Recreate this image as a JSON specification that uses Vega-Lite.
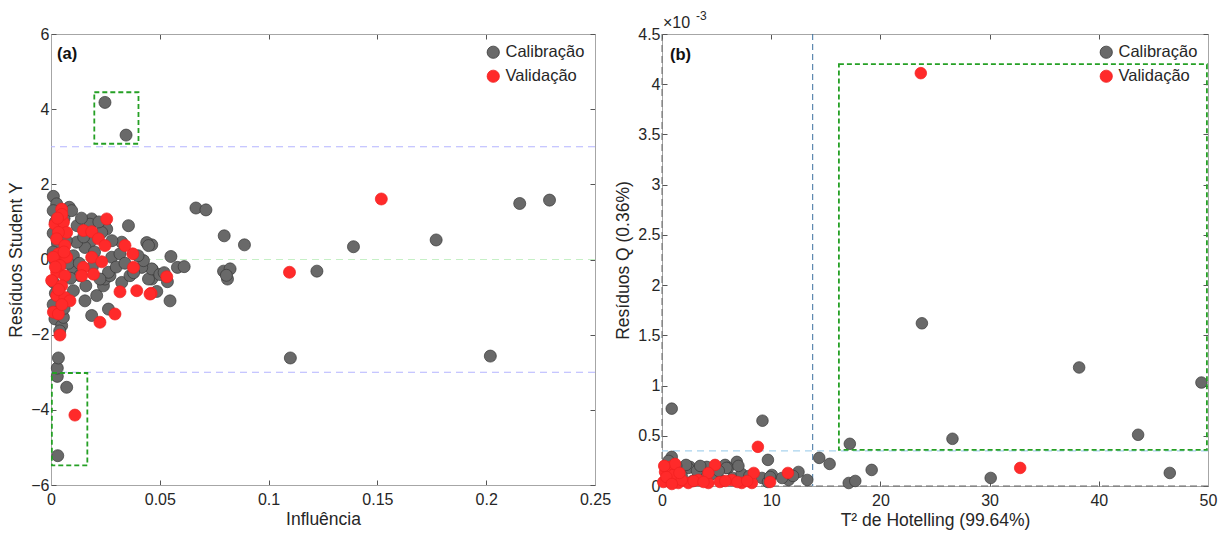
{
"$schema":"https://vega.github.io/schema/vega-lite/v6.json",
"padding":{"left":7,"top":9,"right":5,"bottom":2},
"spacing":67,
"bounds":"flush",
"config":{
 "font":"Liberation Sans",
 "view":{"stroke":"#a6a6a6","strokeWidth":1},
 "axis":{"grid":false,"labelFont":"Liberation Sans","labelFontSize":16,"labelColor":"#262626","labelFlush":false,"labelOverlap":false,"titleFont":"Liberation Sans","titleFontSize":17.5,"titleFontWeight":"normal","titleColor":"#262626","domainColor":"#a6a6a6","tickColor":"#555555","tickSize":-5},
 "axisX":{"labelPadding":11,"titlePadding":3},
 "axisY":{"labelPadding":7,"titlePadding":5},
 "legend":{"orient":"top-right","offset":8,"labelFont":"Liberation Sans","labelFontSize":16.5,"labelColor":"#262626","symbolType":"circle","symbolSize":150,"symbolStrokeWidth":0.8,"rowPadding":7,"padding":2,"title":null}
},
"datasets":{
 "pontosA":[
  {"Influencia":0.0248,"Residuo":4.18,"Conjunto":"Calibração"},
  {"Influencia":0.0345,"Residuo":3.31,"Conjunto":"Calibração"},
  {"Influencia":0.0031,"Residuo":-5.22,"Conjunto":"Calibração"},
  {"Influencia":0.0072,"Residuo":-3.40,"Conjunto":"Calibração"},
  {"Influencia":0.0029,"Residuo":-3.11,"Conjunto":"Calibração"},
  {"Influencia":0.0029,"Residuo":-2.89,"Conjunto":"Calibração"},
  {"Influencia":0.0034,"Residuo":-2.62,"Conjunto":"Calibração"},
  {"Influencia":0.110,"Residuo":-2.62,"Conjunto":"Calibração"},
  {"Influencia":0.1222,"Residuo":-0.31,"Conjunto":"Calibração"},
  {"Influencia":0.2019,"Residuo":-2.57,"Conjunto":"Calibração"},
  {"Influencia":0.2154,"Residuo":1.49,"Conjunto":"Calibração"},
  {"Influencia":0.2291,"Residuo":1.58,"Conjunto":"Calibração"},
  {"Influencia":0.139,"Residuo":0.34,"Conjunto":"Calibração"},
  {"Influencia":0.177,"Residuo":0.52,"Conjunto":"Calibração"},
  {"Influencia":0.0666,"Residuo":1.37,"Conjunto":"Calibração"},
  {"Influencia":0.0712,"Residuo":1.32,"Conjunto":"Calibração"},
  {"Influencia":0.0796,"Residuo":0.63,"Conjunto":"Calibração"},
  {"Influencia":0.0889,"Residuo":0.39,"Conjunto":"Calibração"},
  {"Influencia":0.0463,"Residuo":0.39,"Conjunto":"Calibração"},
  {"Influencia":0.044,"Residuo":0.45,"Conjunto":"Calibração"},
  {"Influencia":0.0551,"Residuo":0.08,"Conjunto":"Calibração"},
  {"Influencia":0.0581,"Residuo":-0.21,"Conjunto":"Calibração"},
  {"Influencia":0.0612,"Residuo":-0.19,"Conjunto":"Calibração"},
  {"Influencia":0.0793,"Residuo":-0.31,"Conjunto":"Calibração"},
  {"Influencia":0.0823,"Residuo":-0.25,"Conjunto":"Calibração"},
  {"Influencia":0.0811,"Residuo":-0.52,"Conjunto":"Calibração"},
  {"Influencia":0.0806,"Residuo":-0.42,"Conjunto":"Calibração"},
  {"Influencia":0.0466,"Residuo":-0.27,"Conjunto":"Calibração"},
  {"Influencia":0.0463,"Residuo":-0.52,"Conjunto":"Calibração"},
  {"Influencia":0.0535,"Residuo":-0.59,"Conjunto":"Calibração"},
  {"Influencia":0.0486,"Residuo":-0.85,"Conjunto":"Calibração"},
  {"Influencia":0.0547,"Residuo":-1.10,"Conjunto":"Calibração"},
  {"Influencia":0.0011,"Residuo":1.68,"Conjunto":"Calibração"},
  {"Influencia":0.0026,"Residuo":1.48,"Conjunto":"Calibração"},
  {"Influencia":0.0084,"Residuo":1.39,"Conjunto":"Calibração"},
  {"Influencia":0.0018,"Residuo":-1.58,"Conjunto":"Calibração"},
  {"Influencia":0.0049,"Residuo":-1.76,"Conjunto":"Calibração"},
  {"Influencia":0.0057,"Residuo":-1.54,"Conjunto":"Calibração"},
  {"Influencia":0.0103,"Residuo":-0.83,"Conjunto":"Calibração"},
  {"Influencia":0.0156,"Residuo":-1.10,"Conjunto":"Calibração"},
  {"Influencia":0.021,"Residuo":-0.96,"Conjunto":"Calibração"},
  {"Influencia":0.0187,"Residuo":-1.49,"Conjunto":"Calibração"},
  {"Influencia":0.0264,"Residuo":-1.32,"Conjunto":"Calibração"},
  {"Influencia":0.0241,"Residuo":-0.70,"Conjunto":"Calibração"},
  {"Influencia":0.0248,"Residuo":-0.52,"Conjunto":"Calibração"},
  {"Influencia":0.0271,"Residuo":-0.43,"Conjunto":"Calibração"},
  {"Influencia":0.0325,"Residuo":-0.61,"Conjunto":"Calibração"},
  {"Influencia":0.0363,"Residuo":-0.43,"Conjunto":"Calibração"},
  {"Influencia":0.0448,"Residuo":-0.52,"Conjunto":"Calibração"},
  {"Influencia":0.0463,"Residuo":-0.25,"Conjunto":"Calibração"},
  {"Influencia":0.0448,"Residuo":0.37,"Conjunto":"Calibração"},
  {"Influencia":0.0325,"Residuo":0.46,"Conjunto":"Calibração"},
  {"Influencia":0.0417,"Residuo":-0.21,"Conjunto":"Calibração"},
  {"Influencia":0.0425,"Residuo":-0.03,"Conjunto":"Calibração"},
  {"Influencia":0.0356,"Residuo":0.90,"Conjunto":"Calibração"},
  {"Influencia":0.0256,"Residuo":0.81,"Conjunto":"Calibração"},
  {"Influencia":0.0187,"Residuo":1.08,"Conjunto":"Calibração"},
  {"Influencia":0.0179,"Residuo":0.94,"Conjunto":"Calibração"},
  {"Influencia":0.0233,"Residuo":0.72,"Conjunto":"Calibração"},
  {"Influencia":0.0179,"Residuo":0.46,"Conjunto":"Calibração"},
  {"Influencia":0.0156,"Residuo":0.32,"Conjunto":"Calibração"},
  {"Influencia":0.0118,"Residuo":0.46,"Conjunto":"Calibração"},
  {"Influencia":0.0279,"Residuo":0.06,"Conjunto":"Calibração"},
  {"Influencia":0.0317,"Residuo":0.15,"Conjunto":"Calibração"},
  {"Influencia":0.0103,"Residuo":0.10,"Conjunto":"Calibração"},
  {"Influencia":0.0103,"Residuo":-0.25,"Conjunto":"Calibração"},
  {"Influencia":0.0133,"Residuo":-0.43,"Conjunto":"Calibração"},
  {"Influencia":0.0264,"Residuo":-0.34,"Conjunto":"Calibração"},
  {"Influencia":0.0225,"Residuo":-0.52,"Conjunto":"Calibração"},
  {"Influencia":0.001,"Residuo":1.3,"Conjunto":"Calibração"},
  {"Influencia":0.002,"Residuo":1.0,"Conjunto":"Calibração"},
  {"Influencia":0.001,"Residuo":0.7,"Conjunto":"Calibração"},
  {"Influencia":0.003,"Residuo":0.45,"Conjunto":"Calibração"},
  {"Influencia":0.001,"Residuo":0.2,"Conjunto":"Calibração"},
  {"Influencia":0.002,"Residuo":-0.05,"Conjunto":"Calibração"},
  {"Influencia":0.003,"Residuo":-0.3,"Conjunto":"Calibração"},
  {"Influencia":0.001,"Residuo":-0.6,"Conjunto":"Calibração"},
  {"Influencia":0.002,"Residuo":-0.9,"Conjunto":"Calibração"},
  {"Influencia":0.001,"Residuo":-1.2,"Conjunto":"Calibração"},
  {"Influencia":0.003,"Residuo":-1.4,"Conjunto":"Calibração"},
  {"Influencia":0.004,"Residuo":-1.9,"Conjunto":"Calibração"},
  {"Influencia":0.006,"Residuo":1.1,"Conjunto":"Calibração"},
  {"Influencia":0.007,"Residuo":0.5,"Conjunto":"Calibração"},
  {"Influencia":0.008,"Residuo":-0.1,"Conjunto":"Calibração"},
  {"Influencia":0.009,"Residuo":-0.5,"Conjunto":"Calibração"},
  {"Influencia":0.006,"Residuo":-1.3,"Conjunto":"Calibração"},
  {"Influencia":0.012,"Residuo":0.9,"Conjunto":"Calibração"},
  {"Influencia":0.013,"Residuo":-0.1,"Conjunto":"Calibração"},
  {"Influencia":0.015,"Residuo":0.6,"Conjunto":"Calibração"},
  {"Influencia":0.02,"Residuo":0.2,"Conjunto":"Calibração"},
  {"Influencia":0.022,"Residuo":1.0,"Conjunto":"Calibração"},
  {"Influencia":0.028,"Residuo":0.5,"Conjunto":"Calibração"},
  {"Influencia":0.03,"Residuo":-0.2,"Conjunto":"Calibração"},
  {"Influencia":0.019,"Residuo":-0.2,"Conjunto":"Calibração"},
  {"Influencia":0.016,"Residuo":-0.7,"Conjunto":"Calibração"},
  {"Influencia":0.014,"Residuo":1.1,"Conjunto":"Calibração"},
  {"Influencia":0.0095,"Residuo":1.3,"Conjunto":"Calibração"},
  {"Influencia":0.038,"Residuo":-0.35,"Conjunto":"Calibração"},
  {"Influencia":0.034,"Residuo":-0.1,"Conjunto":"Calibração"},
  {"Influencia":0.04,"Residuo":0.1,"Conjunto":"Calibração"},
  {"Influencia":0.05,"Residuo":-0.4,"Conjunto":"Calibração"},
  {"Influencia":0.052,"Residuo":-0.35,"Conjunto":"Calibração"},
  {"Influencia":0.011,"Residuo":-4.14,"Conjunto":"Validação"},
  {"Influencia":0.1096,"Residuo":-0.34,"Conjunto":"Validação"},
  {"Influencia":0.1518,"Residuo":1.61,"Conjunto":"Validação"},
  {"Influencia":0.0532,"Residuo":-0.46,"Conjunto":"Validação"},
  {"Influencia":0.046,"Residuo":-0.90,"Conjunto":"Validação"},
  {"Influencia":0.0049,"Residuo":1.34,"Conjunto":"Validação"},
  {"Influencia":0.0018,"Residuo":0.94,"Conjunto":"Validação"},
  {"Influencia":0.0057,"Residuo":0.99,"Conjunto":"Validação"},
  {"Influencia":0.0072,"Residuo":0.72,"Conjunto":"Validação"},
  {"Influencia":0.0034,"Residuo":0.72,"Conjunto":"Validação"},
  {"Influencia":0.0026,"Residuo":0.55,"Conjunto":"Validação"},
  {"Influencia":0.0064,"Residuo":0.37,"Conjunto":"Validação"},
  {"Influencia":0.0034,"Residuo":0.15,"Conjunto":"Validação"},
  {"Influencia":0.0011,"Residuo":0.06,"Conjunto":"Validação"},
  {"Influencia":0.0072,"Residuo":0.06,"Conjunto":"Validação"},
  {"Influencia":0.0041,"Residuo":-0.16,"Conjunto":"Validação"},
  {"Influencia":0.0026,"Residuo":-0.34,"Conjunto":"Validação"},
  {"Influencia":0.0003,"Residuo":-0.56,"Conjunto":"Validação"},
  {"Influencia":0.0064,"Residuo":-0.43,"Conjunto":"Validação"},
  {"Influencia":0.0049,"Residuo":-0.70,"Conjunto":"Validação"},
  {"Influencia":0.0026,"Residuo":-0.96,"Conjunto":"Validação"},
  {"Influencia":0.0064,"Residuo":-1.01,"Conjunto":"Validação"},
  {"Influencia":0.0087,"Residuo":-1.10,"Conjunto":"Validação"},
  {"Influencia":0.0011,"Residuo":-1.40,"Conjunto":"Validação"},
  {"Influencia":0.0034,"Residuo":-1.45,"Conjunto":"Validação"},
  {"Influencia":0.0041,"Residuo":-2.01,"Conjunto":"Validação"},
  {"Influencia":0.0225,"Residuo":-1.67,"Conjunto":"Validação"},
  {"Influencia":0.0294,"Residuo":-1.45,"Conjunto":"Validação"},
  {"Influencia":0.0317,"Residuo":-0.86,"Conjunto":"Validação"},
  {"Influencia":0.0394,"Residuo":-0.83,"Conjunto":"Validação"},
  {"Influencia":0.0455,"Residuo":-0.92,"Conjunto":"Validação"},
  {"Influencia":0.0379,"Residuo":-0.21,"Conjunto":"Validação"},
  {"Influencia":0.0376,"Residuo":0.15,"Conjunto":"Validação"},
  {"Influencia":0.034,"Residuo":0.37,"Conjunto":"Validação"},
  {"Influencia":0.0256,"Residuo":1.08,"Conjunto":"Validação"},
  {"Influencia":0.0149,"Residuo":0.77,"Conjunto":"Validação"},
  {"Influencia":0.0187,"Residuo":0.74,"Conjunto":"Validação"},
  {"Influencia":0.0218,"Residuo":0.55,"Conjunto":"Validação"},
  {"Influencia":0.0248,"Residuo":0.37,"Conjunto":"Validação"},
  {"Influencia":0.0187,"Residuo":0.06,"Conjunto":"Validação"},
  {"Influencia":0.0233,"Residuo":-0.06,"Conjunto":"Validação"},
  {"Influencia":0.0149,"Residuo":-0.21,"Conjunto":"Validação"},
  {"Influencia":0.0141,"Residuo":-0.43,"Conjunto":"Validação"},
  {"Influencia":0.0195,"Residuo":-0.39,"Conjunto":"Validação"},
  {"Influencia":0.005,"Residuo":1.2,"Conjunto":"Validação"},
  {"Influencia":0.003,"Residuo":1.1,"Conjunto":"Validação"},
  {"Influencia":0.006,"Residuo":0.2,"Conjunto":"Validação"},
  {"Influencia":0.002,"Residuo":-0.2,"Conjunto":"Validação"},
  {"Influencia":0.005,"Residuo":-1.2,"Conjunto":"Validação"},
  {"Influencia":0.0035,"Residuo":-0.8,"Conjunto":"Validação"}
 ],
 "pontosB":[
  {"T2":0.89,"Q":0.77,"Conjunto":"Calibração"},
  {"T2":9.2,"Q":0.65,"Conjunto":"Calibração"},
  {"T2":0.89,"Q":0.29,"Conjunto":"Calibração"},
  {"T2":9.7,"Q":0.26,"Conjunto":"Calibração"},
  {"T2":14.4,"Q":0.28,"Conjunto":"Calibração"},
  {"T2":15.35,"Q":0.22,"Conjunto":"Calibração"},
  {"T2":17.2,"Q":0.42,"Conjunto":"Calibração"},
  {"T2":17.1,"Q":0.03,"Conjunto":"Calibração"},
  {"T2":17.7,"Q":0.05,"Conjunto":"Calibração"},
  {"T2":19.2,"Q":0.16,"Conjunto":"Calibração"},
  {"T2":23.8,"Q":1.62,"Conjunto":"Calibração"},
  {"T2":38.2,"Q":1.18,"Conjunto":"Calibração"},
  {"T2":49.4,"Q":1.03,"Conjunto":"Calibração"},
  {"T2":26.6,"Q":0.47,"Conjunto":"Calibração"},
  {"T2":43.6,"Q":0.51,"Conjunto":"Calibração"},
  {"T2":30.1,"Q":0.08,"Conjunto":"Calibração"},
  {"T2":46.5,"Q":0.13,"Conjunto":"Calibração"},
  {"T2":6.85,"Q":0.24,"Conjunto":"Calibração"},
  {"T2":5.78,"Q":0.21,"Conjunto":"Calibração"},
  {"T2":2.57,"Q":0.19,"Conjunto":"Calibração"},
  {"T2":12.5,"Q":0.14,"Conjunto":"Calibração"},
  {"T2":13.3,"Q":0.06,"Conjunto":"Calibração"},
  {"T2":10.06,"Q":0.11,"Conjunto":"Calibração"},
  {"T2":11.6,"Q":0.06,"Conjunto":"Calibração"},
  {"T2":7.8,"Q":0.06,"Conjunto":"Calibração"},
  {"T2":9.15,"Q":0.08,"Conjunto":"Calibração"},
  {"T2":9.7,"Q":0.04,"Conjunto":"Calibração"},
  {"T2":4.1,"Q":0.19,"Conjunto":"Calibração"},
  {"T2":6.05,"Q":0.18,"Conjunto":"Calibração"},
  {"T2":9.9,"Q":0.09,"Conjunto":"Calibração"},
  {"T2":2.4,"Q":0.18,"Conjunto":"Calibração"},
  {"T2":5.9,"Q":0.18,"Conjunto":"Calibração"},
  {"T2":0.3,"Q":0.05,"Conjunto":"Calibração"},
  {"T2":0.5,"Q":0.12,"Conjunto":"Calibração"},
  {"T2":1.0,"Q":0.08,"Conjunto":"Calibração"},
  {"T2":1.8,"Q":0.1,"Conjunto":"Calibração"},
  {"T2":2.8,"Q":0.05,"Conjunto":"Calibração"},
  {"T2":3.7,"Q":0.08,"Conjunto":"Calibração"},
  {"T2":4.6,"Q":0.12,"Conjunto":"Calibração"},
  {"T2":5.5,"Q":0.05,"Conjunto":"Calibração"},
  {"T2":6.5,"Q":0.08,"Conjunto":"Calibração"},
  {"T2":7.3,"Q":0.12,"Conjunto":"Calibração"},
  {"T2":8.0,"Q":0.1,"Conjunto":"Calibração"},
  {"T2":3.2,"Q":0.15,"Conjunto":"Calibração"},
  {"T2":2.2,"Q":0.21,"Conjunto":"Calibração"},
  {"T2":1.3,"Q":0.2,"Conjunto":"Calibração"},
  {"T2":0.6,"Q":0.25,"Conjunto":"Calibração"},
  {"T2":3.5,"Q":0.2,"Conjunto":"Calibração"},
  {"T2":5.2,"Q":0.15,"Conjunto":"Calibração"},
  {"T2":7.0,"Q":0.2,"Conjunto":"Calibração"},
  {"T2":11.0,"Q":0.08,"Conjunto":"Calibração"},
  {"T2":12.0,"Q":0.1,"Conjunto":"Calibração"},
  {"T2":23.7,"Q":4.11,"Conjunto":"Validação"},
  {"T2":32.8,"Q":0.18,"Conjunto":"Validação"},
  {"T2":8.78,"Q":0.39,"Conjunto":"Validação"},
  {"T2":4.86,"Q":0.21,"Conjunto":"Validação"},
  {"T2":0.73,"Q":0.19,"Conjunto":"Validação"},
  {"T2":0.28,"Q":0.14,"Conjunto":"Validação"},
  {"T2":11.53,"Q":0.13,"Conjunto":"Validação"},
  {"T2":9.9,"Q":0.04,"Conjunto":"Validação"},
  {"T2":8.23,"Q":0.03,"Conjunto":"Validação"},
  {"T2":8.4,"Q":0.13,"Conjunto":"Validação"},
  {"T2":6.4,"Q":0.06,"Conjunto":"Validação"},
  {"T2":5.3,"Q":0.04,"Conjunto":"Validação"},
  {"T2":4.25,"Q":0.03,"Conjunto":"Validação"},
  {"T2":4.25,"Q":0.13,"Conjunto":"Validação"},
  {"T2":3.33,"Q":0.06,"Conjunto":"Validação"},
  {"T2":2.41,"Q":0.03,"Conjunto":"Validação"},
  {"T2":1.5,"Q":0.03,"Conjunto":"Validação"},
  {"T2":0.73,"Q":0.04,"Conjunto":"Validação"},
  {"T2":0.12,"Q":0.04,"Conjunto":"Validação"},
  {"T2":1.04,"Q":0.11,"Conjunto":"Validação"},
  {"T2":7.3,"Q":0.03,"Conjunto":"Validação"},
  {"T2":1.2,"Q":0.22,"Conjunto":"Validação"},
  {"T2":0.4,"Q":0.09,"Conjunto":"Validação"},
  {"T2":1.8,"Q":0.06,"Conjunto":"Validação"},
  {"T2":2.9,"Q":0.05,"Conjunto":"Validação"},
  {"T2":3.8,"Q":0.04,"Conjunto":"Validação"},
  {"T2":5.8,"Q":0.05,"Conjunto":"Validação"},
  {"T2":6.9,"Q":0.04,"Conjunto":"Validação"},
  {"T2":7.8,"Q":0.05,"Conjunto":"Validação"},
  {"T2":0.9,"Q":0.02,"Conjunto":"Validação"},
  {"T2":1.6,"Q":0.13,"Conjunto":"Validação"},
  {"T2":0.2,"Q":0.2,"Conjunto":"Validação"}
 ],
 "limA":[{"Residuo":3},{"Residuo":-3}],
 "zeroA":[{"Residuo":0}],
 "caixasA":[
  {"Influencia":0.0199,"Influencia2":0.0402,"Residuo":3.08,"Residuo2":4.45},
  {"Influencia":0.0004,"Influencia2":0.0167,"Residuo":-5.48,"Residuo2":-3.02}
 ],
 "rotA":[{"Influencia":0.0028,"Residuo":5.47,"texto":"(a)"}],
 "limQ":[{"Q":0.35}],
 "limT2":[{"T2":13.8}],
 "zeroBy":[{"Q":0}],
 "zeroBx":[{"T2":0}],
 "caixaB":[{"T2":16.2,"T22":49.9,"Q":0.36,"Q2":4.2}],
 "rotB":[{"T2":0.73,"Q":4.29,"texto":"(b)"}],
 "escalaB":[{"T2":0,"Q":4.5,"base":"×10","expoente":"-3"}],
 "caixa":[{"v":0}]
},
"resolve":{"scale":{"color":"independent","stroke":"independent"},"legend":{"color":"independent","stroke":"independent"}},
"hconcat":[
 {
  "width":544,"height":451,
  "layer":[
   {
    "layer":[
     {"data":{"name":"limA"},"mark":{"type":"rule","color":"#b4b4ff","strokeDash":[7,5],"strokeWidth":1},
      "encoding":{"y":{"field":"Residuo","type":"quantitative","scale":{"domain":[-6,6],"nice":false},"axis":{"title":"Resíduos Student Y","values":[-6,-4,-2,0,2,4,6]}}}},
     {"data":{"name":"zeroA"},"mark":{"type":"rule","color":"#c6f0c6","strokeDash":[7,5],"strokeWidth":1.2},
      "encoding":{"y":{"field":"Residuo","type":"quantitative"}}},
     {"data":{"name":"pontosA"},"mark":{"type":"point","filled":true,"opacity":1,"size":145,"strokeWidth":0.7,"shape":"circle"},
      "encoding":{
       "x":{"field":"Influencia","type":"quantitative","scale":{"domain":[0,0.25],"nice":false,"zero":false},"axis":{"title":"Influência","values":[0,0.05,0.1,0.15,0.2,0.25],"format":"~g"}},
       "y":{"field":"Residuo","type":"quantitative"},
       "color":{"field":"Conjunto","type":"nominal","scale":{"domain":["Calibração","Validação"],"range":["#696969","#ff2a2a"]}},
       "stroke":{"field":"Conjunto","type":"nominal","scale":{"domain":["Calibração","Validação"],"range":["#383838","#f02020"]}}
      }},
     {"data":{"name":"caixasA"},"mark":{"type":"rect","fillOpacity":0,"fill":"white","stroke":"#25a025","strokeWidth":1.8,"strokeDash":[5,3]},
      "encoding":{"x":{"field":"Influencia","type":"quantitative"},"x2":{"field":"Influencia2"},"y":{"field":"Residuo","type":"quantitative"},"y2":{"field":"Residuo2"}}},
     {"data":{"name":"rotA"},"mark":{"type":"text","align":"left","baseline":"middle","fontWeight":"bold","fontSize":16.5,"color":"#111111"},
      "encoding":{"x":{"field":"Influencia","type":"quantitative"},"y":{"field":"Residuo","type":"quantitative"},"text":{"field":"texto"}}}
    ]
   },
   {"data":{"name":"caixa"},"mark":{"type":"point","opacity":0},
    "encoding":{
     "x":{"field":"v","type":"quantitative","scale":{"domain":[0,0.25],"nice":false,"zero":false},"axis":{"orient":"top","labels":false,"title":null,"values":[0,0.05,0.1,0.15,0.2,0.25]}},
     "y":{"field":"v","type":"quantitative","scale":{"domain":[-6,6],"nice":false},"axis":{"orient":"right","labels":false,"title":null,"values":[-6,-4,-2,0,2,4,6]}}
    }}
  ],
  "resolve":{"scale":{"x":"independent","y":"independent"}}
 },
 {
  "width":546,"height":452,
  "layer":[
   {
    "layer":[
     {"data":{"name":"limQ"},"mark":{"type":"rule","color":"#a9d3ee","strokeDash":[7,5],"strokeWidth":1.2},
      "encoding":{"y":{"field":"Q","type":"quantitative","scale":{"domain":[0,4.5],"nice":false},"axis":{"title":"Resíduos Q (0.36%)","values":[0,0.5,1,1.5,2,2.5,3,3.5,4,4.5],"format":"~g","domain":false}}}},
     {"data":{"name":"limT2"},"mark":{"type":"rule","color":"#3a6f9e","strokeDash":[6,4],"strokeWidth":1},
      "encoding":{"x":{"field":"T2","type":"quantitative","scale":{"domain":[0,50],"nice":false,"zero":false},"axis":{"title":"T² de Hotelling (99.64%)","values":[0,10,20,30,40,50],"domain":false}}}},
     {"data":{"name":"zeroBy"},"mark":{"type":"rule","color":"#666666","strokeDash":[7,4],"strokeWidth":1},
      "encoding":{"y":{"field":"Q","type":"quantitative"}}},
     {"data":{"name":"zeroBx"},"mark":{"type":"rule","color":"#666666","strokeDash":[7,4],"strokeWidth":1},
      "encoding":{"x":{"field":"T2","type":"quantitative"}}},
     {"data":{"name":"pontosB"},"mark":{"type":"point","filled":true,"opacity":1,"size":135,"strokeWidth":0.7,"shape":"circle"},
      "encoding":{
       "x":{"field":"T2","type":"quantitative"},
       "y":{"field":"Q","type":"quantitative"},
       "color":{"field":"Conjunto","type":"nominal","scale":{"domain":["Calibração","Validação"],"range":["#696969","#ff2a2a"]}},
       "stroke":{"field":"Conjunto","type":"nominal","scale":{"domain":["Calibração","Validação"],"range":["#383838","#f02020"]}}
      }},
     {"data":{"name":"caixaB"},"mark":{"type":"rect","fillOpacity":0,"fill":"white","stroke":"#25a025","strokeWidth":1.8,"strokeDash":[5,3]},
      "encoding":{"x":{"field":"T2","type":"quantitative"},"x2":{"field":"T22"},"y":{"field":"Q","type":"quantitative"},"y2":{"field":"Q2"}}},
     {"data":{"name":"rotB"},"mark":{"type":"text","align":"left","baseline":"middle","fontWeight":"bold","fontSize":16.5,"color":"#111111"},
      "encoding":{"x":{"field":"T2","type":"quantitative"},"y":{"field":"Q","type":"quantitative"},"text":{"field":"texto"}}},
     {"data":{"name":"escalaB"},"mark":{"type":"text","align":"left","baseline":"alphabetic","fontSize":16,"color":"#262626","dx":1,"dy":-6},
      "encoding":{"x":{"field":"T2","type":"quantitative"},"y":{"field":"Q","type":"quantitative"},"text":{"field":"base"}}},
     {"data":{"name":"escalaB"},"mark":{"type":"text","align":"left","baseline":"alphabetic","fontSize":12,"color":"#262626","dx":34,"dy":-14},
      "encoding":{"x":{"field":"T2","type":"quantitative"},"y":{"field":"Q","type":"quantitative"},"text":{"field":"expoente"}}}
    ]
   },
   {"data":{"name":"caixa"},"mark":{"type":"point","opacity":0},
    "encoding":{
     "x":{"field":"v","type":"quantitative","scale":{"domain":[0,50],"nice":false,"zero":false},"axis":{"orient":"top","labels":false,"title":null,"values":[0,10,20,30,40,50]}},
     "y":{"field":"v","type":"quantitative","scale":{"domain":[0,4.5],"nice":false},"axis":{"orient":"right","labels":false,"title":null,"values":[0,0.5,1,1.5,2,2.5,3,3.5,4,4.5]}}
    }}
  ],
  "resolve":{"scale":{"x":"independent","y":"independent"}}
 }
]
}
